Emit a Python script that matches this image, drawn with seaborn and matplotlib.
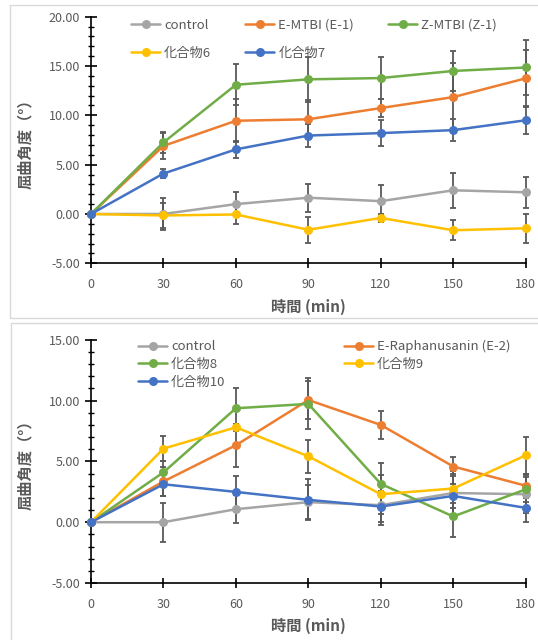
import matplotlib
matplotlib.use("Agg")
import matplotlib.pyplot as plt
import numpy as np
import pandas as pd
import seaborn as sns
from matplotlib.patches import Rectangle
from matplotlib.ticker import MultipleLocator, FormatStrFormatter

sns.set_style("white")
plt.rcParams['font.family'] = ['Noto Sans CJK JP', 'DejaVu Sans']

times = [0, 30, 60, 90, 120, 150, 180]

# top chart
top_names = ["control", "E-MTBI (E-1)", "Z-MTBI (Z-1)", "化合物6", "化合物7"]
top_control = [0, 0.0, 1.0, 1.65, 1.3, 2.4, 2.2]
top_control_err = [0, 1.6, 1.25, 1.4, 1.6, 1.8, 1.55]
e1 = [0, 6.9, 9.45, 9.6, 10.74, 11.85, 13.75]
e1_err = [0, 1.3, 2.2, 2.0, 0.9, 3.5, 2.9]
z1 = [0, 7.25, 13.1, 13.65, 13.78, 14.5, 14.85]
z1_err = [0, 1.1, 2.1, 2.3, 2.15, 2.0, 2.8]
c6 = [0, -0.15, -0.05, -1.6, -0.4, -1.65, -1.45]
c6_err = [0, 1.3, 1.0, 1.3, 0.4, 1.0, 1.45]
c7 = [0, 4.1, 6.55, 7.95, 8.2, 8.5, 9.5]
c7_err = [0, 0.5, 0.85, 1.2, 1.3, 1.15, 1.4]

# bottom chart
bot_names = ["control", "E-Raphanusanin (E-2)", "化合物8", "化合物9", "化合物10"]
bot_control = [0, 0.0, 1.07, 1.65, 1.4, 2.4, 2.3]
bot_control_err = [0, 1.6, 1.15, 1.4, 1.65, 1.8, 1.55]
e2 = [0, 3.35, 6.33, 10.05, 8.0, 4.58, 3.0]
e2_err = [0, 1.2, 1.75, 1.6, 1.17, 0.8, 1.0]
c8 = [0, 4.1, 9.37, 9.73, 3.15, 0.47, 2.7]
c8_err = [0, 0.9, 1.65, 2.1, 1.7, 1.7, 1.0]
c9 = [0, 6.05, 7.8, 5.42, 2.3, 2.77, 5.5]
c9_err = [0, 1.0, 0.3, 1.35, 1.6, 1.2, 1.5]
c10 = [0, 3.12, 2.49, 1.84, 1.29, 2.16, 1.18]
c10_err = [0, 1.0, 1.35, 1.7, 1.3, 1.0, 1.2]

colors = ["#A5A5A5", "#ED7D31", "#70AD47", "#FFC000", "#4472C4"]
grey_txt = "#595959"
err_col = "#595959"


def draw_panel(ax, names, values, errs, ylim, legend_order, ncol, anchor, colspace, lspace):
    for i, (name, v, e) in enumerate(zip(names, values, errs)):
        df = pd.DataFrame({"time": times, "angle": v})
        ax.errorbar(times, v, yerr=e, fmt="none", ecolor=err_col, elinewidth=1.3,
                    capsize=2.5, capthick=1.3, zorder=2 + i * 0.1, clip_on=False)
        sns.lineplot(data=df, x="time", y="angle", ax=ax, color=colors[i], label=name,
                     marker="o", markersize=6.5, markeredgewidth=0, linewidth=1.8,
                     errorbar=None, zorder=3 + i * 0.1, clip_on=False)
    ax.set_xlim(0, 180)
    ax.set_ylim(*ylim)
    ax.set_xticks(times)
    ax.yaxis.set_major_locator(MultipleLocator(5))
    ax.yaxis.set_minor_locator(MultipleLocator(1))
    ax.yaxis.set_major_formatter(FormatStrFormatter("%.2f"))
    for s in ["top", "right"]:
        ax.spines[s].set_visible(False)
    for s in ["left", "bottom"]:
        ax.spines[s].set_color("black")
        ax.spines[s].set_linewidth(1.2)
    ax.tick_params(axis="y", which="major", direction="inout", length=8, width=1.2,
                   color="black", labelcolor=grey_txt, labelsize=9, pad=4, left=True)
    ax.tick_params(axis="y", which="minor", direction="inout", length=5, width=1.0,
                   color="black", left=True)
    ax.tick_params(axis="x", which="major", direction="inout", length=7, width=1.2,
                   color="black", labelcolor=grey_txt, labelsize=9, pad=7, bottom=True)
    ax.set_xlabel("時間 (min)", fontsize=11, fontweight="bold", color=grey_txt)
    ax.set_ylabel("屈曲角度（°）", fontsize=11, fontweight="bold", color=grey_txt)
    ax.yaxis.set_label_coords(-0.133, 0.5)
    handles, labels = ax.get_legend_handles_labels()
    handles = [handles[k] for k in legend_order]
    labels = [labels[k] for k in legend_order]
    leg = ax.legend(handles, labels, ncol=ncol, loc="upper left",
                    bbox_to_anchor=anchor, bbox_transform=fig.transFigure,
                    frameon=False, fontsize=9.5, handlelength=2.2, handletextpad=0.3,
                    columnspacing=colspace, labelspacing=lspace, borderpad=0,
                    borderaxespad=0)
    for t in leg.get_texts():
        t.set_color(grey_txt)


W, H = 538, 640
fig = plt.figure(figsize=(W / 100, H / 100), dpi=100)
fig.patch.set_facecolor("white")

# panel frames
fig.patches.append(Rectangle((10 / W, 1 - 318 / H), 540 / W, 313 / H, transform=fig.transFigure,
                             fill=False, edgecolor="#D9D9D9", linewidth=1.0))
fig.patches.append(Rectangle((11 / W, -0.05), 540 / W, 1 - 323 / H + 0.05, transform=fig.transFigure,
                             fill=False, edgecolor="#D9D9D9", linewidth=1.0))

ax1 = fig.add_axes([91 / W, 1 - 263.3 / H, 434.7 / W, 246.6 / H])
draw_panel(ax1, top_names,
           [top_control, e1, z1, c6, c7],
           [top_control_err, e1_err, z1_err, c6_err, c7_err],
           (-5, 20), [0, 3, 1, 4, 2], 3, (131 / W, 1 - 19 / H), 2.6, 1.1)
ax1.xaxis.set_label_coords(0.5, -0.145)

ax2 = fig.add_axes([91 / W, 1 - 583 / H, 434.7 / W, 243.2 / H])
draw_panel(ax2, bot_names,
           [bot_control, e2, c8, c9, c10],
           [bot_control_err, e2_err, c8_err, c9_err, c10_err],
           (-5, 15), [0, 2, 4, 1, 3], 2, (138 / W, 1 - 340 / H), 9.0, 0.35)
ax2.xaxis.set_label_coords(0.5, -0.145)

fig.savefig("out.png", dpi=100)
